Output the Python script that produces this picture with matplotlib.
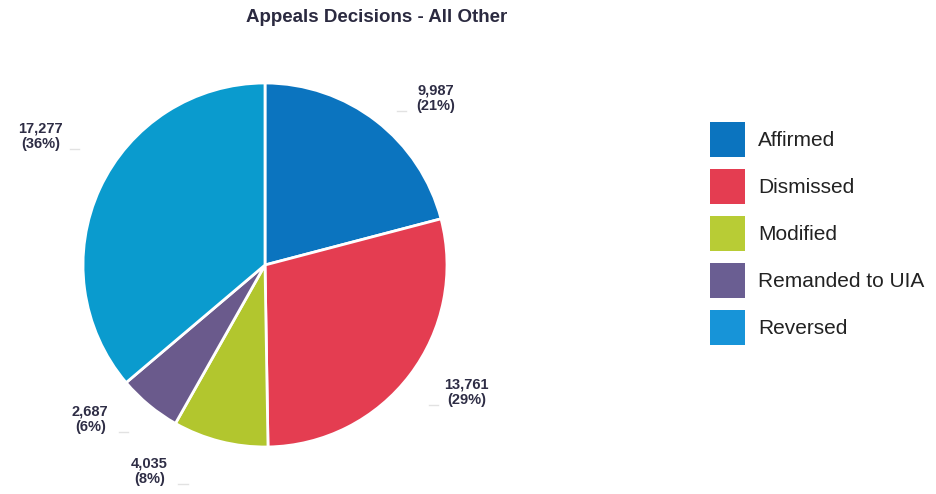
import numpy as np
import matplotlib
matplotlib.use("Agg")
import matplotlib.pyplot as plt
from matplotlib.patches import Patch

categories = ["Affirmed", "Dismissed", "Modified", "Remanded to UIA", "Reversed"]
values = [9987, 13761, 4035, 2687, 17277]
percents = ["21%", "29%", "8%", "6%", "36%"]
colors = ["#0B74BF", "#E43D51", "#B2C62E", "#6A5A8C", "#0A9BCE"]
legend_colors = ["#0B74BF", "#E43D51", "#B8CC35", "#6A5E92", "#1794D8"]
label_nudge_deg = [-8, 5, -15, -9, -5]
label_dist = [1.31, 1.31, 1.3, 1.28, 1.42]

plt.rcParams['font.family'] = ['Liberation Sans', 'DejaVu Sans']

fig = plt.figure(figsize=(9.37, 4.94), dpi=100)
ax = fig.add_axes([(265 - 182) / 937, (494 - 265 - 182) / 494, 364 / 937, 364 / 494])
wedges, _ = ax.pie(values, colors=colors, startangle=90, counterclock=False,
                   wedgeprops=dict(edgecolor="white", linewidth=2))
ax.set_xlim(-1, 1)
ax.set_ylim(-1, 1)
ax.set_aspect('equal')
ax.axis('off')

for w, v, p, nud, d in zip(wedges, values, percents, label_nudge_deg, label_dist):
    mid = np.deg2rad((w.theta1 + w.theta2) / 2 + nud)
    x, y = d * np.cos(mid), d * np.sin(mid)
    ax.text(x, y, f"{v:,}\n({p})", ha="center", va="center", fontsize=10.5,
            fontweight="bold", color="#2E2D45", linespacing=1.15, clip_on=False)
    # faint connector
    side = 1 if x > 0 else -1
    ax.plot([x - side * 0.21, x - side * 0.16], [y - 0.07, y - 0.07], color="#e2e2e2",
            lw=1, clip_on=False)

fig.text(377 / 937, 1 - 18 / 494, "Appeals Decisions - All Other", ha="center", va="center",
         fontsize=13.5, fontweight="bold", color="#2B2A40")

handles = [Patch(facecolor=c, edgecolor="none") for c in legend_colors]
fig.legend(handles, categories, loc="upper left", bbox_to_anchor=(710 / 937, 1 - 122 / 494),
           frameon=False, fontsize=15, handlelength=1.68, handleheight=2.21,
           labelspacing=0.58, handletextpad=0.62, borderpad=0, borderaxespad=0,
           labelcolor="#222222")

fig.savefig("out.png", dpi=100, facecolor="white")
